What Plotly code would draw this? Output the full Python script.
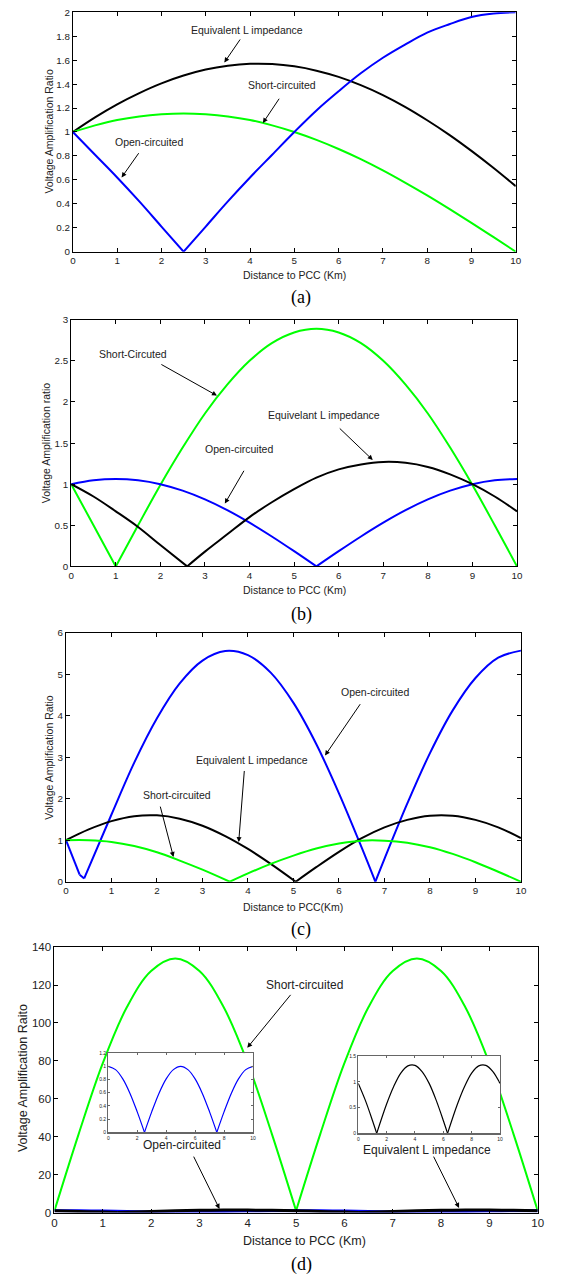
import plotly.graph_objects as go

W, H = 568, 1281

# ---------------- data ----------------
# Panel (a)
A_X = [0, 0.5, 1, 1.5, 2, 2.5, 3, 3.5, 4, 4.5, 5, 5.5, 6, 6.5, 7, 7.5, 8, 8.5, 9, 9.5, 10]
A_OPEN = [1.0, 0.81, 0.62, 0.42, 0.21, 0.0, 0.21, 0.42, 0.62, 0.81, 1.0, 1.18, 1.34, 1.49, 1.62, 1.73, 1.83, 1.90, 1.96, 1.99, 2.0]
A_OPEN_CUSPS = [2.5]
A_SHORT = [1.0, 1.055, 1.10, 1.13, 1.148, 1.155, 1.148, 1.13, 1.10, 1.055, 1.0, 0.934, 0.858, 0.773, 0.679, 0.577, 0.470, 0.357, 0.240, 0.121, 0.0]
A_EQUIV = [1.0, 1.122, 1.231, 1.325, 1.406, 1.471, 1.521, 1.553, 1.569, 1.567, 1.548, 1.512, 1.460, 1.391, 1.308, 1.210, 1.098, 0.976, 0.842, 0.699, 0.547]

# Panel (b)
B_X = [0, 0.5, 1, 1.5, 2, 2.5, 3, 3.5, 4, 4.5, 5, 5.5, 6, 6.5, 7, 7.5, 8, 8.5, 9, 9.5, 10]
B_SHORT = [1.0, 0.50, 0.0, 0.50, 0.99, 1.445, 1.86, 2.21, 2.50, 2.715, 2.845, 2.89, 2.845, 2.715, 2.50, 2.21, 1.86, 1.445, 0.99, 0.50, 0.0]
B_SHORT_CUSPS = [1]
B_OPEN = [1.0, 1.048, 1.064, 1.048, 1.0, 0.921, 0.815, 0.684, 0.532, 0.364, 0.185, 0.0, 0.185, 0.364, 0.532, 0.684, 0.815, 0.921, 1.0, 1.048, 1.064]
B_OPEN_CUSPS = [5.5]
B_EQUIV_X = [0, 0.5, 1, 1.5, 2, 2.6, 3, 3.5, 4, 4.5, 5, 5.5, 6, 6.5, 7, 7.5, 8, 8.5, 9, 9.5, 10]
B_EQUIV = [1.0, 0.85, 0.67, 0.48, 0.26, 0.0, 0.18, 0.39, 0.60, 0.78, 0.94, 1.08, 1.18, 1.24, 1.27, 1.26, 1.21, 1.12, 1.0, 0.85, 0.67]
B_EQUIV_CUSPS = [2.6]

# Panel (c)
C_OPEN_X = [0, 0.3, 0.4, 1, 1.5, 2, 2.5, 3, 3.5, 4, 4.5, 5, 5.5, 6, 6.5, 6.8, 7, 7.5, 8, 8.5, 9, 9.5, 10]
C_OPEN = [1.0, 0.17, 0.08, 1.62, 2.87, 3.94, 4.78, 5.33, 5.56, 5.46, 5.04, 4.31, 3.32, 2.13, 0.82, 0.0, 0.55, 1.88, 3.10, 4.13, 4.91, 5.40, 5.57]
C_OPEN_CUSPS = [0.3, 0.4, 6.8]
C_EQUIV_X = [0, 0.5, 1, 1.5, 2, 2.5, 3, 3.5, 4, 4.5, 5.05, 5.5, 6, 6.5, 7, 7.5, 8, 8.5, 9, 9.5, 10]
C_EQUIV = [1.0, 1.26, 1.46, 1.58, 1.60, 1.52, 1.35, 1.10, 0.79, 0.43, 0.0, 0.35, 0.72, 1.05, 1.31, 1.49, 1.59, 1.59, 1.49, 1.31, 1.05]
C_EQUIV_CUSPS = [5.05]
C_SHORT_X = [0, 0.5, 1, 1.5, 2, 2.5, 3, 3.6, 4, 4.5, 5, 5.5, 6, 6.5, 7, 7.5, 8, 8.5, 9, 9.5, 10]
C_SHORT = [1.0, 1.0, 0.96, 0.86, 0.71, 0.51, 0.29, 0.0, 0.20, 0.43, 0.63, 0.80, 0.92, 0.99, 0.99, 0.94, 0.83, 0.67, 0.47, 0.24, 0.0]
C_SHORT_CUSPS = [3.6]

# Panel (d)
D_X = [0, 0.5, 1, 1.5, 2, 2.5, 3, 3.5, 4, 4.5, 5, 5.5, 6, 6.5, 7, 7.5, 8, 8.5, 9, 9.5, 10]
D_SHORT = [1, 41.4, 78.8, 108.4, 127.4, 134, 127.4, 108.4, 78.8, 41.4, 1, 41.4, 78.8, 108.4, 127.4, 134, 127.4, 108.4, 78.8, 41.4, 1]
D_SHORT_CUSPS = [5]
D_OPEN = [1, 0.95, 0.81, 0.59, 0.31, 0, 0.31, 0.59, 0.81, 0.95, 1, 0.95, 0.81, 0.59, 0.31, 0, 0.31, 0.59, 0.81, 0.95, 1]
D_OPEN_CUSPS = [2.5, 7.5]
D_EQUIV_X = [0, 0.5, 1, 1.3, 2, 2.5, 3, 3.5, 4, 4.5, 5, 5.5, 6, 6.3, 7, 7.5, 8, 8.5, 9, 9.5, 10]
D_EQUIV = [0.97, 0.64, 0.25, 0.0, 0.57, 0.91, 1.17, 1.31, 1.32, 1.20, 0.97, 0.64, 0.25, 0.0, 0.57, 0.91, 1.17, 1.31, 1.32, 1.20, 0.97]
D_EQUIV_CUSPS = [1.3, 6.3]

BLUE, GREEN, BLACK = "#0000FF", "#00FF00", "#000000"
SANS = "Liberation Sans, Arial, sans-serif"
SERIF = "Liberation Serif, Times New Roman, serif"
TXT = "#222222"


def split(xs, ys, cusps):
    ox, oy = [], []
    for x, y in zip(xs, ys):
        ox.append(x)
        oy.append(y)
        if x in cusps and x != xs[0] and x != xs[-1]:
            ox += [None, x]
            oy += [None, y]
    return ox, oy


def line(xs, ys, cusps, color, width, xa, ya):
    x, y = split(xs, ys, cusps)
    return go.Scatter(x=x, y=y, mode="lines", xaxis=xa, yaxis=ya,
                      line=dict(color=color, width=width, shape="spline"),
                      hoverinfo="skip", showlegend=False, connectgaps=False)


fig = go.Figure()
# (a)
fig.add_trace(line(A_X, A_EQUIV, [], BLACK, 2, "x", "y"))
fig.add_trace(line(A_X, A_SHORT, [], GREEN, 2, "x", "y"))
fig.add_trace(line(A_X, A_OPEN, A_OPEN_CUSPS, BLUE, 2, "x", "y"))
# (b)
fig.add_trace(line(B_X, B_SHORT, B_SHORT_CUSPS, GREEN, 2, "x2", "y2"))
fig.add_trace(line(B_X, B_OPEN, B_OPEN_CUSPS, BLUE, 2, "x2", "y2"))
fig.add_trace(line(B_EQUIV_X, B_EQUIV, B_EQUIV_CUSPS, BLACK, 2, "x2", "y2"))
# (c)
fig.add_trace(line(C_OPEN_X, C_OPEN, C_OPEN_CUSPS, BLUE, 2, "x3", "y3"))
fig.add_trace(line(C_EQUIV_X, C_EQUIV, C_EQUIV_CUSPS, BLACK, 2, "x3", "y3"))
fig.add_trace(line(C_SHORT_X, C_SHORT, C_SHORT_CUSPS, GREEN, 2, "x3", "y3"))
# (d)
fig.add_trace(line(D_X, D_SHORT, D_SHORT_CUSPS, GREEN, 2, "x4", "y4"))
fig.add_trace(line(D_X, D_OPEN, D_OPEN_CUSPS, BLUE, 3, "x4", "y4"))
fig.add_trace(line(D_EQUIV_X, D_EQUIV, D_EQUIV_CUSPS, BLACK, 3, "x4", "y4"))
# insets
fig.add_trace(line(D_X, D_OPEN, D_OPEN_CUSPS, BLUE, 1.2, "x5", "y5"))
fig.add_trace(line(D_EQUIV_X, D_EQUIV, D_EQUIV_CUSPS, BLACK, 1.2, "x6", "y6"))


def fx(px):
    return px / W


def fy(py):
    return 1 - py / H


# panel boxes in pixels: left, right, top, bottom
BOX = {
    "": (71, 521, 6.3, 248),
    "2": (69.3, 522.3, 316.7, 565.7),
    "3": (64, 526.3, 632.7, 884),
    "4": (52.3, 543.3, 950, 1218),
    "5": (107, 254, 1057, 1137),
    "6": (361, 505, 1060, 1138),
}
YR = {"": [0, 2], "2": [0, 3], "3": [0, 6], "4": [0, 140], "5": [0, 1.2], "6": [0, 1.5]}
YD = {"": 0.2, "2": 0.5, "3": 1, "4": 20, "5": 0.2, "6": 0.5}


def axis(domain, rng, dtick, anchor, fs, color="black", ticklen=4, lw=1):
    return dict(domain=domain, range=rng, dtick=dtick, tick0=0, anchor=anchor,
                showline=True, linecolor=color, linewidth=lw, mirror="ticks",
                ticks="inside", ticklen=ticklen, tickcolor=color, tickwidth=1,
                showgrid=False, zeroline=False, fixedrange=True,
                tickfont=dict(family=SANS, size=fs, color=TXT))


layout = dict(width=W, height=H, margin=dict(l=0, r=0, t=0, b=0), autosize=False,
              paper_bgcolor="white", plot_bgcolor="white", showlegend=False)
for k, (l, r, t, b) in BOX.items():
    inset = k in ("5", "6")
    main_d = k == "4"
    fs = 5 if inset else (11.5 if main_d else 9.8)
    col = "#666666" if inset else "black"
    tl = 2 if inset else 4
    lw = 1.2 if inset else 1
    xd = 2 if inset else 1
    layout["xaxis" + k] = axis([fx(l), fx(r)], [0, 10], xd, "y" + k, fs, col, tl, lw)
    layout["yaxis" + k] = axis([fy(b), fy(t)], YR[k], YD[k], "x" + k, fs, col, tl, lw)
fig.update_layout(**layout)

ann = []


def text(x, y, s, ref, fs=10.5):
    ann.append(dict(x=x, y=y, xref="x" + ref, yref="y" + ref, text=s, showarrow=False,
                    xanchor="center", yanchor="middle",
                    font=dict(family=SANS, size=fs, color=TXT)))


def arrow(tx, ty, hx, hy, ref):
    ann.append(dict(x=hx, y=hy, ax=tx, ay=ty, xref="x" + ref, yref="y" + ref,
                    axref="x" + ref, ayref="y" + ref, text="", showarrow=True,
                    arrowhead=2, arrowsize=1, arrowwidth=1, arrowcolor="black",
                    standoff=0, startstandoff=0))


def ptext(px, py, s, fs=10.5, angle=0, family=SANS, color=TXT):
    ann.append(dict(x=fx(px), y=fy(py), xref="paper", yref="paper", text=s,
                    showarrow=False, xanchor="center", yanchor="middle",
                    textangle=angle, font=dict(family=family, size=fs, color=color)))


# (a)
text(3.93, 1.85, "Equivalent L impedance", "")
arrow(3.80, 1.785, 3.42, 1.58, "")
text(4.73, 1.39, "Short-circuited", "")
arrow(4.68, 1.29, 4.29, 1.074, "")
text(1.72, 0.917, "Open-circuited", "")
arrow(1.51, 0.835, 1.10, 0.62, "")
ptext(46.5, 127, "Voltage Amplification Ratio", angle=-90)
ptext(296, 272, "Distance to PCC (Km)")
ptext(303, 294, "(a)", fs=18, family=SERIF, color="black")

# (b)
text(1.384, 2.587, "Short-Circuted", "2")
arrow(1.989, 2.466, 3.269, 2.077, "2")
text(5.66, 1.84, "Equivelant L impedance", "2")
arrow(5.99, 1.695, 6.764, 1.294, "2")
text(3.768, 1.43, "Open-circuited", "2")
arrow(3.894, 1.181, 3.446, 0.764, "2")
ptext(44.5, 441.5, "Voltage Amplification ratio", angle=-90)
ptext(296, 590, "Distance to PCC (Km)")
ptext(303, 614, "(b)", fs=18, family=SERIF, color="black")

# (c)
text(6.80, 4.577, "Open-circuited", "3")
arrow(6.489, 4.315, 5.693, 3.04, "3")
text(4.082, 2.93, "Equivalent L impedance", "3")
arrow(3.922, 2.705, 3.796, 0.955, "3")
text(2.444, 2.101, "Short-circuited", "3")
arrow(2.064, 1.846, 2.362, 0.597, "3")
ptext(46.5, 759, "Voltage Amplification Ratio", angle=-90)
ptext(295, 910, "Distance to PCC(Km)")
ptext(303, 932, "(c)", fs=18, family=SERIF, color="black")

# (d)
text(5.167, 120.0, "Short-circuited", "4", fs=12)
arrow(4.912, 115.6, 3.99, 86.9, "4")
text(2.642, 35.5, "Open-circuited", "4", fs=12)
arrow(2.866, 30.3, 3.415, 1.93, "4")
text(7.705, 32.9, "Equivalent L impedance", "4", fs=12)
arrow(7.831, 30.3, 8.373, 2.46, "4")
ptext(21, 1082.5, "Voltage Amplification Raito", fs=12.5, angle=-90)
ptext(306, 1247, "Distance to PCC (Km)", fs=12.5)
ptext(303, 1270, "(d)", fs=18, family=SERIF, color="black")

fig.update_layout(annotations=ann)
fig.write_html(
    "out.html",
    config={"displayModeBar": False, "staticPlot": True},
    post_script="document.body.style.margin='0';document.body.style.padding='0';"
                "document.documentElement.style.overflow='hidden';",
)
